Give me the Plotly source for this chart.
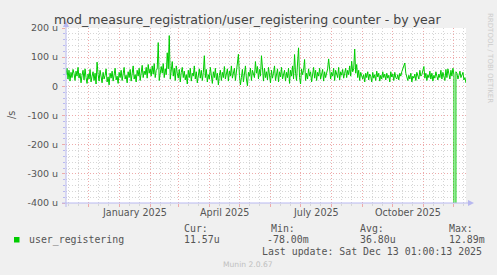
import plotly.graph_objects as go
import pandas as pd

# ---------------- data (micro-units per second, one value per day) ----------------
start_date = "2024-11-09"
values_u = [
    40, 62, 25, 55, 18, 48, 30, 58, 44, 20, 52, 35, 65, 28, 45, 12, 38, 55, 22, 60,
    30, 10, 42, 25, 58, 15, 35, 50, 20, 45, 8, 83, 40, 18, 55, 30, 12, 48, 25, 38,
    60, 15, 32, 5, 45, 28, 52, 18, 40, 62, 22, 35, 10, 48, 30, 55, 20, 42, 65, 25,
    38, 12, 50, 30, 58, 18, 45, 70, 25, 40, 15, 55, 35, 62, 20, 48, 72, 30, 52, 40,
    65, 28, 75, 45, 60, 35, 70, 42, 78, 30, 55, 60, 150, 20, 55, 68, 45, 78, 30, 60,
    40, 115, 60, 174, 25, 50, 85, 35, 62, 20, 70, 45, 28, 58, 15, 48, 65, 30, 52, 22,
    40, 8, 55, 30, 62, 18, 45, 35, 70, 25, 50, 12, 42, 60, 28, 55, 20, 48, 105, 30,
    58, 15, 40, 25, 65, 35, 10, 50, 30, 62, 22, 45, 5, 38, 55, 20, 48, 30, 68, 25,
    42, 60, 18, 52, 35, 70, 28, 45, 62, 20, 55, 80, 110, 38, 5, 30, 58, 15, 45, 70,
    25, 2, 48, 35, 62, 20, 55, 40, 30, 85, 45, 68, 25, 58, 35, 105, 40, 18, 62, 30,
    50, 22, 65, 35, 12, 55, 28, 45, 70, 20, 40, 60, 15, 50, 32, 65, 25, 45, 55, 18,
    48, 30, 62, 10, 55, 35, 70, 25, 109, 45, 20, 80, 132, 30, 8, 60, 40, 55, 92, 20,
    45, 25, 60, 35, 50, 15, 42, 65, 28, 55, 20, 48, 35, 62, 25, 40, 58, 18, 50, 30,
    45, 60, 94, 55, 25, 48, 35, 62, 20, 55, 40, 30, 65, 22, 50, 38, 58, 28, 45, 62,
    30, 55, 40, 70, 35, 86, 50, 60, 128, 45, 75, 30, 55, 20, 48, 35, 25, 40, 15, 45,
    30, 50, 22, 42, 35, 15, 48, 28, 40, 20, 52, 32, 45, 18, 38, 25, 50, 30, 42, 22,
    45, 28, 38, 15, 50, 32, 42, 20, 48, 30, 25, 40, 22, 45, 35, 50, 62, 72, 80, 45,
    30, 20, 38, 25, 45, 15, 35, 28, 42, 20, 48, 30, 25, 55, 35, 40, 50, 68, 28, 45,
    20, 40, 30, 52, 25, 45, 18, 38, 28, 50, 35, 22, 42, 30, 55, 25, 48, 35, 20, 58,
    30, 60, 45, 25, 55, 35, 62, 40, -78000, 50, 45, 25, 38, 52, 30, 40, 48, 22, 30, 11.57,
]
x_range = ["2024-11-09 00:00:00", "2025-12-13 01:00:13"]

month_label_dates = ["2025-01-16", "2025-04-16", "2025-07-16", "2025-10-16"]
month_label_text = ["January 2025", "April 2025", "July 2025", "October 2025"]

ytick_vals = [-400, -300, -200, -100, 0, 100, 200]
ytick_text = ["-400 u", "-300 u", "-200 u", "-100 u", "0", "100 u", "200 u"]

series_name = "user_registering"
stat_headers = ["Cur:", "Min:", "Avg:", "Max:"]
stat_values = ["11.57u", "-78.00m", "36.80u", "12.89m"]
last_update = "Last update: Sat Dec 13 01:00:13 2025"
title_text = "mod_measure_registration/user_registering counter - by year"

# ---------------- derived ----------------
dates = pd.date_range(start_date, periods=len(values_u), freq="D")
month_starts = list(pd.date_range("2024-12-01", "2025-12-01", freq="MS"))
minor_days = []
for ms in [pd.Timestamp("2024-11-01")] + month_starts:
    for d in (11, 21):
        t = ms.replace(day=d)
        if pd.Timestamp(x_range[0]) <= t <= pd.Timestamp(x_range[1]):
            minor_days.append(t)

W, H = 497, 275
L, R, T, B = 66, 31, 28, 72
PW, PH = W - L - R, H - T - B


def px(x):
    return (x - L) / PW


def py(y):
    return (H - B - y) / PH


TXT = "#555555"
AXC = "#b8b8f0"
MAJ = "#eeaaaa"
MIN = "#d6d6d6"

fig = go.Figure()
fig.add_trace(go.Scatter(
    x=dates, y=values_u, mode="lines",
    line=dict(color="#00cc00", width=1),
    showlegend=False, hoverinfo="skip",
))

fig.update_layout(
    width=W, height=H,
    margin=dict(l=L, r=R, t=T, b=B, pad=0),
    paper_bgcolor="#f0f0f0", plot_bgcolor="#ffffff",
    font=dict(family="DejaVu Sans", size=9.5, color=TXT),
    showlegend=False,
)
fig.update_xaxes(
    type="date", range=x_range, fixedrange=True,
    tickmode="array", tickvals=month_starts, ticktext=[""] * len(month_starts),
    showgrid=True, gridcolor=MAJ, griddash="1px,2px", gridwidth=1,
    ticks="outside", ticklen=3, tickcolor=MAJ,
    minor=dict(tickmode="array", tickvals=minor_days, showgrid=True,
               gridcolor=MIN, griddash="1px,2px", ticks="outside",
               ticklen=2, tickcolor=MIN),
    showline=False, zeroline=False,
)
fig.update_yaxes(
    range=[-400, 200], fixedrange=True,
    tickmode="array", tickvals=ytick_vals, ticktext=ytick_text,
    showgrid=True, gridcolor=MAJ, griddash="1px,2px", gridwidth=1,
    ticks="outside", ticklen=3, tickcolor=MAJ, ticklabelstandoff=2,
    minor=dict(dtick=20, showgrid=True, gridcolor=MIN, griddash="1px,2px",
               ticks="outside", ticklen=2, tickcolor=AXC),
    showline=False, zeroline=False,
    tickfont=dict(size=9.5, color=TXT),
)

shapes = []
# axis lines with arrows
shapes.append(dict(type="line", xref="paper", yref="paper",
                   x0=px(62), x1=px(469), y0=py(203), y1=py(203),
                   line=dict(color=AXC, width=1)))
shapes.append(dict(type="line", xref="paper", yref="paper",
                   x0=px(66), x1=px(66), y0=py(207), y1=py(26),
                   line=dict(color=AXC, width=1)))
shapes.append(dict(type="path", xref="paper", yref="paper",
                   path=f"M {px(474)},{py(203)} L {px(468)},{py(200)} L {px(468)},{py(206)} Z",
                   fillcolor=AXC, line=dict(color=AXC, width=0)))
shapes.append(dict(type="path", xref="paper", yref="paper",
                   path=f"M {px(66)},{py(21)} L {px(63)},{py(27)} L {px(69)},{py(27)} Z",
                   fillcolor=AXC, line=dict(color=AXC, width=0)))
# legend swatch
shapes.append(dict(type="rect", xref="paper", yref="paper",
                   x0=px(14), x1=px(19.5), y0=py(242.5), y1=py(237),
                   fillcolor="#00cc00", line=dict(width=0)))
fig.update_layout(shapes=shapes)

ann = []
ann.append(dict(text=title_text, xref="paper", yref="paper", x=px(248), y=py(20),
                xanchor="center", yanchor="middle", showarrow=False,
                font=dict(family="DejaVu Sans", size=12.6, color="#444444")))
for d, t in zip(month_label_dates, month_label_text):
    ann.append(dict(text=t, xref="x", yref="paper", x=d, y=py(212.5),
                    xanchor="center", yanchor="middle", showarrow=False,
                    font=dict(family="DejaVu Sans", size=9.6, color=TXT)))
ann.append(dict(text="/s", xref="paper", yref="paper", x=px(11), y=py(115),
                xanchor="center", yanchor="middle", showarrow=False, textangle=-90,
                font=dict(family="DejaVu Sans", size=9.6, color=TXT)))
mono = dict(family="DejaVu Sans Mono", size=9.9, color=TXT)
ann.append(dict(text=series_name, xref="paper", yref="paper", x=px(26.5), y=py(239.5),
                xanchor="left", yanchor="middle", showarrow=False, font=mono))
hx = [181.5, 269, 358, 447]
vx = [181.5, 265, 358, 447]
for h, v, a, b in zip(stat_headers, stat_values, hx, vx):
    ann.append(dict(text=h, xref="paper", yref="paper", x=px(a), y=py(228),
                    xanchor="left", yanchor="middle", showarrow=False, font=mono))
    ann.append(dict(text=v, xref="paper", yref="paper", x=px(b), y=py(239.5),
                    xanchor="left", yanchor="middle", showarrow=False, font=mono))
ann.append(dict(text=last_update, xref="paper", yref="paper", x=px(483.5), y=py(251),
                xanchor="right", yanchor="middle", showarrow=False, font=mono))
ann.append(dict(text="Munin 2.0.67", xref="paper", yref="paper", x=px(248), y=py(264.5),
                xanchor="center", yanchor="middle", showarrow=False,
                font=dict(family="DejaVu Sans", size=7.6, color="#c0c0c0")))
ann.append(dict(text="RRDTOOL / TOBI OETIKER", xref="paper", yref="paper", x=px(490), y=py(58),
                xanchor="center", yanchor="middle", showarrow=False, textangle=90,
                font=dict(family="DejaVu Sans", size=7, color="#cccccc")))
fig.update_layout(annotations=ann)

fig.write_html("out.html")
